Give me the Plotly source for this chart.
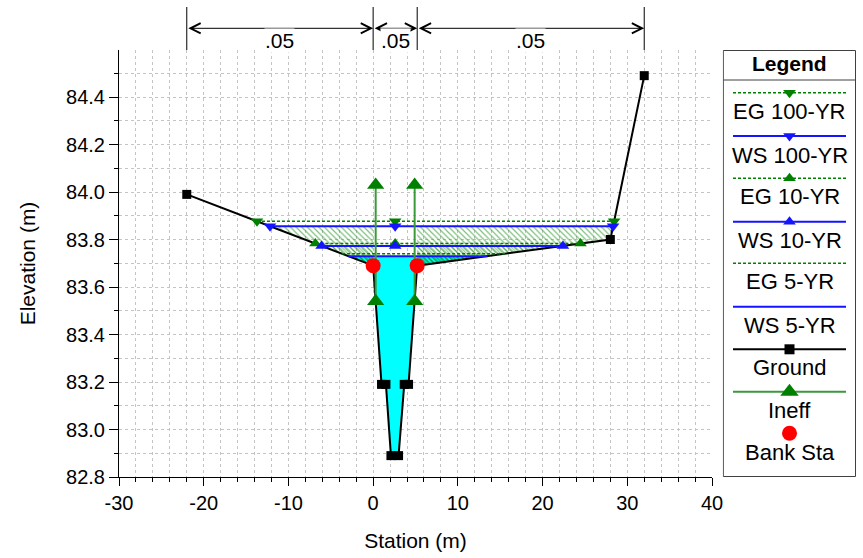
import numpy as np
import plotly.graph_objects as go

# ---------------- data ----------------
ground_sta = [-22, 0, 0.99, 1.51, 2.10, 3.0, 3.67, 4.18, 5.2, 28, 32]
ground_elev = [83.99, 83.69, 83.19, 83.19, 82.89, 82.89, 83.19, 83.19, 83.69, 83.80, 84.49]
bank_sta = [0, 5.2]
bank_elev = [83.69, 83.69]
ineff_sta = [0.3, 4.9]
ineff_low = [83.54, 83.54]
ineff_high = [84.03, 84.03]
profiles = ["100-YR", "10-YR", "5-YR"]
ws_elev = [83.856, 83.773, 83.730]
eg_elev = [83.877, 83.783, 83.740]
n_sta = [-22, 0, 5.2, 32]
n_vals = [".05", ".05", ".05"]
x_ticks = [-30, -20, -10, 0, 10, 20, 30, 40]
x_ticklabels = ["-30", "-20", "-10", "0", "10", "20", "30", "40"]

FONT = "Liberation Sans, Arial, sans-serif"
GREEN = "#008000"
BLUE = "#1414ff"

gx = np.array(ground_sta, float)
gy = np.array(ground_elev, float)


def wet_poly(level, a, b):
    px = [a] + [s for s in gx if a < s < b] + [b]
    py = list(np.interp(px, gx, gy))
    out = []
    for i in range(len(px)):
        x0, y0 = px[i], py[i]
        if i > 0:
            xp, yp = px[i - 1], py[i - 1]
            if (yp - level) * (y0 - level) < 0:
                t = (level - yp) / (y0 - yp)
                out.append((xp + t * (x0 - xp), level))
        if y0 <= level:
            out.append((x0, y0))
    xs = [out[0][0]] + [p[0] for p in out] + [out[-1][0], out[0][0]]
    ys = [level] + [p[1] for p in out] + [level, level]
    return xs, ys


def extent(level):
    xs, _ = wet_poly(level, -30, 40)
    return min(xs), max(xs)


fig = go.Figure()

# cyan water for lowest profile
cx, cy = wet_poly(ws_elev[2], -30, 40)
fig.add_trace(go.Scatter(x=cx, y=cy, fill="toself", fillcolor="#00ffff",
                         line=dict(width=0), mode="lines", hoverinfo="skip"))

# hatched ineffective overbank areas
sizes = [4, 3, 3]
for lvl, sz in zip(ws_elev, sizes):
    lx, ly = wet_poly(lvl, -30, bank_sta[0])
    rx, ry = wet_poly(lvl, bank_sta[1], 40)
    fig.add_trace(go.Scatter(
        x=lx + [None] + rx, y=ly + [None] + ry, fill="toself",
        fillcolor="rgba(0,0,0,0)", mode="lines", line=dict(width=0),
        fillpattern=dict(shape="\\", fgcolor=GREEN, bgcolor="rgba(0,0,0,0)",
                         size=sz, solidity=0.3, fillmode="overlay"),
        hoverinfo="skip"))

# ground
fig.add_trace(go.Scatter(x=ground_sta, y=ground_elev, mode="lines+markers",
                         line=dict(color="black", width=2),
                         marker=dict(symbol="square", size=9, color="black")))

mid = (bank_sta[0] + bank_sta[1]) / 2
markers = ["triangle-down", "triangle-up", None]
for i in range(3):
    for lvl, col, dash in [(eg_elev[i], GREEN, "3px,2px"), (ws_elev[i], BLUE, "solid")]:
        xl, xr = extent(lvl)
        lw = 2 if dash == "solid" else 1.5
        if markers[i]:
            fig.add_trace(go.Scatter(x=[xl, mid, xr], y=[lvl] * 3, mode="lines+markers",
                                     line=dict(color=col, width=lw, dash=dash),
                                     marker=dict(symbol=markers[i], size=11, color=col)))
        else:
            fig.add_trace(go.Scatter(x=[xl, xr], y=[lvl] * 2, mode="lines",
                                     line=dict(color=col, width=lw, dash=dash)))

# ineffective flow markers
ix, iy = [], []
for s, lo, hi in zip(ineff_sta, ineff_low, ineff_high):
    ix += [s, s, None]
    iy += [lo, hi, None]
fig.add_trace(go.Scatter(x=ix, y=iy, mode="lines+markers",
                         line=dict(color="#3a9a3a", width=2),
                         marker=dict(symbol="triangle-up", size=15, color=GREEN)))

# bank stations
fig.add_trace(go.Scatter(x=bank_sta, y=bank_elev, mode="markers",
                         marker=dict(symbol="circle", size=15, color="#ff0000")))

# ---------------- legend (drawn on a pixel-scaled overlay axis) ----------------
W, H, L, R, T, B = 863, 558, 119, 7, 50, 81
PW = W - L - R
LX0 = 722.7
lx_line = [733, 846]
lx_mid = 789.5
leg_items = [
    ("EG 100-YR", GREEN, "3px,2px", "triangle-down", 11, 92.7, 111.7),
    ("WS 100-YR", BLUE, "solid", "triangle-down", 11, 136.0, 155.0),
    ("EG 10-YR", GREEN, "3px,2px", "triangle-up", 11, 178.3, 196.7),
    ("WS 10-YR", BLUE, "solid", "triangle-up", 11, 221.7, 240.0),
    ("EG 5-YR", GREEN, "3px,2px", None, 0, 263.3, 281.7),
    ("WS 5-YR", BLUE, "solid", None, 0, 306.7, 325.0),
    ("Ground", "black", "solid", "square", 10, 349.3, 367.7),
    ("Ineff", "#3a9a3a", "solid", "triangle-up", 16, 391.7, 410.0),
    ("Bank Sta", None, None, "circle", 15, 433.3, 452.7),
]
annotations = []
for name, col, dash, sym, msz, ly, ty in leg_items:
    if col is not None:
        fig.add_trace(go.Scatter(x=lx_line, y=[ly, ly], mode="lines", xaxis="x2", yaxis="y2",
                                 line=dict(color=col, width=2 if dash == "solid" else 1.5, dash=dash)))
    if sym:
        mcol = {"Ineff": GREEN, "Bank Sta": "#ff0000"}.get(name, col)
        fig.add_trace(go.Scatter(x=[lx_mid], y=[ly], mode="markers", xaxis="x2", yaxis="y2",
                                 marker=dict(symbol=sym, size=msz, color=mcol)))
    annotations.append(dict(x=lx_mid, y=ty, xref="x2", yref="y2", text=name, showarrow=False,
                            font=dict(family=FONT, size=22, color="black")))
annotations.append(dict(x=lx_mid, y=63.5, xref="x2", yref="y2", text="<b>Legend</b>", showarrow=False,
                        font=dict(family=FONT, size=21, color="black")))

shapes = [
    dict(type="rect", xref="x2", yref="y2", x0=723.3, x1=855.5, y0=50.5, y1=476.5,
         line=dict(color="#404040", width=1)),
    dict(type="line", xref="x2", yref="y2", x0=723.3, x1=855.5, y0=80, y1=80,
         line=dict(color="#404040", width=1)),
]

# ---------------- Manning's n annotation above plot ----------------
PH = H - T - B
y_arrow = 1 + (T - 28.3) / PH
y_top = 1 + (T - 7) / PH
for s in n_sta:
    shapes.append(dict(type="line", xref="x", yref="paper", x0=s, x1=s, y0=1.0, y1=y_top,
                       line=dict(color="black", width=1)))
for i, v in enumerate(n_vals):
    annotations.append(dict(x=n_sta[i + 1], y=y_arrow, ax=n_sta[i], ay=0, xref="x", yref="paper",
                            axref="x", ayref="pixel", text="", showarrow=True,
                            arrowhead=5, startarrowhead=5, arrowside="end+start",
                            arrowsize=2, startarrowsize=2, arrowwidth=1, arrowcolor="black"))
    annotations.append(dict(x=(n_sta[i] + n_sta[i + 1]) / 2, y=y_arrow, xref="x", yref="paper",
                            text=v, showarrow=False, bgcolor="white", borderpad=0,
                            font=dict(family=FONT, size=21, color="black")))

grid = dict(gridcolor="#c4c4c4", griddash="3px,3px", gridwidth=1)
fig.update_layout(
    template="none",
    width=W, height=H,
    margin=dict(l=L, r=R, t=T, b=B, pad=0, autoexpand=False),
    paper_bgcolor="white", plot_bgcolor="white",
    showlegend=False,
    font=dict(family=FONT, size=20, color="black"),
    xaxis=dict(domain=[0, 593 / PW], range=[-30, 40], tickmode="array", tickvals=x_ticks,
               ticktext=x_ticklabels, automargin=False,
               ticks="outside", ticklen=8, tickcolor="black", showline=True,
               linecolor="black", linewidth=1, zeroline=False, showgrid=True, **grid,
               minor=dict(dtick=2, tick0=0, ticks="outside", ticklen=4, tickcolor="black", showgrid=True, **grid),
               tickfont=dict(size=20), title=dict(text="Station (m)", font=dict(size=21), standoff=20)),
    yaxis=dict(range=[82.8, 84.598], dtick=0.2, tick0=82.8, tickformat=".1f", automargin=False,
               ticks="outside", ticklen=9, tickcolor="black", showline=True,
               linecolor="black", linewidth=1, zeroline=False, showgrid=True, **grid,
               minor=dict(dtick=0.1, ticks="outside", ticklen=4, tickcolor="black", showgrid=True, **grid),
               tickfont=dict(size=20), title=dict(text="Elevation (m)", font=dict(size=21), standoff=24)),
    xaxis2=dict(domain=[(LX0 - L) / PW, 1], range=[LX0, W - R],
                visible=False, fixedrange=True, anchor="y2", automargin=False),
    yaxis2=dict(domain=[0, 1], range=[H - B, T], visible=False, fixedrange=True, anchor="x2",
                automargin=False),
    shapes=shapes,
    annotations=annotations,
)

fig.write_html("out.html")
